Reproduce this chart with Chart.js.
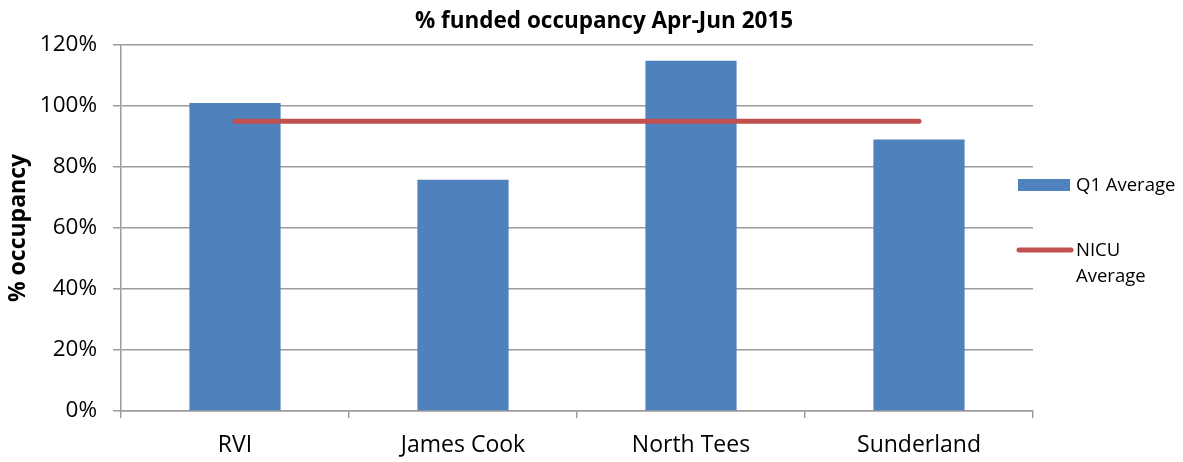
<!DOCTYPE html>
<html>
<head>
<meta charset="utf-8">
<script src="https://cdn.jsdelivr.net/npm/chart.js@4.4.1/dist/chart.umd.min.js"></script>
<style>
html,body{margin:0;padding:0;background:#fff;}
#wrap{position:relative;width:1183px;height:462px;}
</style>
</head>
<body>
<div id="wrap"><canvas id="c" width="1183" height="462"></canvas></div>
<script>
const categories = ["RVI", "James Cook", "North Tees", "Sunderland"];
const q1Average = [101, 75.8, 114.8, 89];
const nicuAverage = [95, 95, 95, 95];
const yTicks = [0, 20, 40, 60, 80, 100, 120];
const chartTitle = "% funded occupancy Apr-Jun 2015";
const yTitle = "% occupancy";

const FONT = "'Open Sans', 'Liberation Sans', sans-serif";
const GRID = "#9c9c9c";

const overlay = {
  id: 'overlay',
  afterDraw(chart) {
    const ctx = chart.ctx;
    ctx.save();
    ctx.fillStyle = '#000';
    ctx.font = "bold 22.5px " + FONT;
    ctx.textAlign = 'center';
    ctx.textBaseline = 'middle';
    ctx.fillText(chartTitle, 604, 22);
    // legend
    ctx.textAlign = 'left';
    ctx.font = "18.5px " + FONT;
    const ds0 = chart.data.datasets[1];
    ctx.fillStyle = ds0.backgroundColor;
    ctx.fillRect(1018, 179, 52, 12);
    ctx.fillStyle = '#000';
    ctx.fillText(ds0.label, 1076, 186);
    const ds1 = chart.data.datasets[0];
    ctx.strokeStyle = ds1.borderColor;
    ctx.lineWidth = 5;
    ctx.lineCap = 'round';
    ctx.beginPath(); ctx.moveTo(1019, 250); ctx.lineTo(1071, 250); ctx.stroke();
    ctx.fillText("NICU", 1076, 251);
    ctx.fillText("Average", 1076, 277);
    ctx.restore();
  }
};

new Chart(document.getElementById('c'), {
  data: {
    labels: categories,
    datasets: [
      {
        type: 'line',
        label: 'NICU Average',
        data: nicuAverage,
        borderColor: '#C0504D',
        borderWidth: 5,
        borderCapStyle: 'round',
        pointRadius: 0,
        fill: false,
        order: 0
      },
      {
        type: 'bar',
        label: 'Q1 Average',
        data: q1Average,
        backgroundColor: '#4F81BD',
        borderWidth: 0,
        barPercentage: 0.4,
        categoryPercentage: 1,
        order: 1
      }
    ]
  },
  options: {
    responsive: false,
    animation: false,
    layout: { padding: { top: 45, right: 150, left: 0, bottom: 0 } },
    plugins: { legend: { display: false }, title: { display: false }, tooltip: { enabled: false } },
    scales: {
      x: {
        offset: true,
        grid: { display: true, drawOnChartArea: false, offset: true, color: GRID, tickLength: 7, lineWidth: 1.5 },
        border: { color: GRID, width: 1.5 },
        ticks: { color: '#000', font: { family: FONT, size: 23 }, padding: 14 },
        afterFit(s) { s.height = 51; }
      },
      y: {
        min: 0, max: 120,
        afterBuildTicks(s) { s.ticks = yTicks.map(v => ({ value: v })); },
        grid: { color: GRID, tickLength: 8, lineWidth: 1.5 },
        border: { color: GRID, width: 1.5 },
        ticks: { color: '#000', font: { family: FONT, size: 22.5 }, padding: 16, callback: v => v + '%' },
        title: { display: true, text: yTitle, color: '#000', font: { family: FONT, size: 23, weight: 'bold' }, padding: { top: 5, bottom: 0 } },
        afterFit(s) { s.width = 121; }
      }
    }
  },
  plugins: [overlay]
});
</script>
</body>
</html>
